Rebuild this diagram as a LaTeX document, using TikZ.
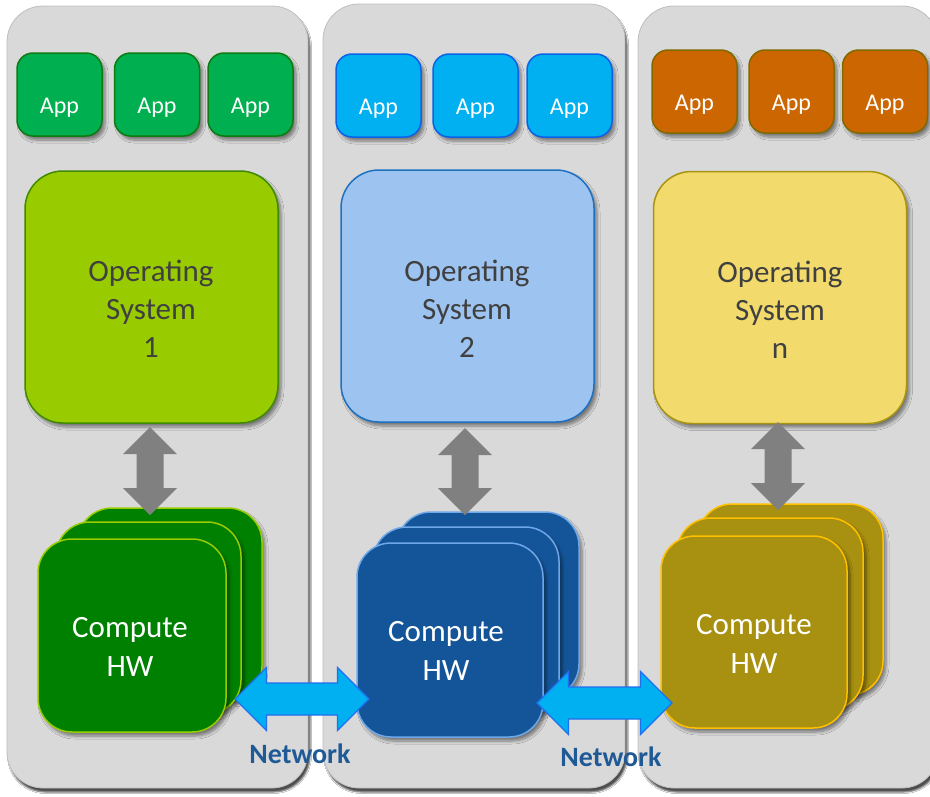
\documentclass[tikz,border=0pt]{standalone}
\usepackage{fontspec}
\setmainfont{Carlito}
\usetikzlibrary{shadows.blur}
\definecolor{panelgray}{HTML}{D9D9D9}
\definecolor{panelline}{HTML}{BFBFBF}
\definecolor{appAfill}{HTML}{00B050}
\definecolor{appAline}{HTML}{0E7A10}
\definecolor{appBfill}{HTML}{00B0F0}
\definecolor{appBline}{HTML}{0B62E8}
\definecolor{appCfill}{HTML}{CC6600}
\definecolor{appCline}{HTML}{7F6A00}
\definecolor{osAfill}{HTML}{99CC00}
\definecolor{osAline}{HTML}{3F8A00}
\definecolor{osBfill}{HTML}{9DC3F0}
\definecolor{osBline}{HTML}{1F70C0}
\definecolor{osCfill}{HTML}{F2DB6C}
\definecolor{osCline}{HTML}{A89410}
\definecolor{hwAfill}{HTML}{008000}
\definecolor{hwAline}{HTML}{99CC00}
\definecolor{hwBfill}{HTML}{145599}
\definecolor{hwBline}{HTML}{6FA8E8}
\definecolor{hwCfill}{HTML}{A89010}
\definecolor{hwCline}{HTML}{FFC000}
\definecolor{netfill}{HTML}{00B0F0}
\definecolor{netline}{HTML}{1F6FEF}
\definecolor{nettext}{HTML}{1F5A96}
\definecolor{ostext}{HTML}{404040}
\definecolor{graydark}{HTML}{808080}
\newcommand\vdarrow[3]{%
  \fill[graydark] (#1,#2) -- ({#1+27},{#2+27}) -- ({#1+13.5},{#2+27}) -- ({#1+13.5},{#3-27})
   -- ({#1+27},{#3-27}) -- (#1,#3) -- ({#1-27},{#3-27}) -- ({#1-13.5},{#3-27})
   -- ({#1-13.5},{#2+27}) -- ({#1-27},{#2+27}) -- cycle;}
\newcommand\hdarrow[3]{%
  \filldraw[fill=netfill, draw=netline, line width=1.2pt, line join=miter]
   (#1,#3) -- ({#1+31.5},{#3-31.5}) -- ({#1+31.5},{#3-16}) -- ({#2-31.5},{#3-16})
   -- ({#2-31.5},{#3-31.5}) -- (#2,#3) -- ({#2-31.5},{#3+31.5}) -- ({#2-31.5},{#3+16})
   -- ({#1+31.5},{#3+16}) -- ({#1+31.5},{#3+31.5}) -- cycle;}
\tikzset{
  boxshadow/.style={blur shadow={shadow xshift=3pt, shadow yshift=-4pt, shadow blur radius=3pt, shadow blur steps=6, shadow opacity=45}},
  panel/.style={rectangle, rounded corners=36pt, fill=panelgray, draw=panelline, line width=0.8pt,
    inner sep=0pt, outer sep=0pt,
    blur shadow={shadow xshift=2pt, shadow yshift=-4pt, shadow blur radius=1.5pt, shadow blur steps=4, shadow opacity=70}},
  appbox/.style={rectangle, rounded corners=16pt, line width=1.5pt, inner sep=0pt, outer sep=0pt,
    minimum width=85pt, minimum height=83pt, boxshadow},
  osbox/.style={rectangle, rounded corners=38pt, line width=1.5pt, inner sep=0pt, outer sep=0pt,
    minimum width=253pt, minimum height=252pt, boxshadow},
  hwbox/.style={rectangle, rounded corners=34pt, line width=1.5pt, inner sep=0pt, outer sep=0pt, boxshadow},
  apptext/.style={text=white, font=\fontsize{24}{29}\selectfont, inner sep=0pt, anchor=base},
  ostext/.style={text=ostext, font=\fontsize{31}{38}\selectfont, align=center, inner sep=0pt},
  hwtext/.style={text=white, font=\fontsize{31}{38.5}\selectfont, align=center, inner sep=0pt},
  nettextstyle/.style={text=nettext, font=\bfseries\fontsize{28}{34}\selectfont, inner sep=0pt, anchor=base},
}
\begin{document}
\begin{tikzpicture}[x=1pt, y=-1pt]
\useasboundingbox (0,0) rectangle (930,796);
\clip (0,0) rectangle (930,796);
\fill[white] (0,0) rectangle (930,796);
% panels
\node[panel, minimum width=301pt, minimum height=782pt] (p1) at (157.5,397) {};
\node[panel, minimum width=302pt, minimum height=784pt] (p2) at (474,396) {};
\node[panel, minimum width=300pt, minimum height=782pt] (p3) at (788,397) {};
% apps column 1
\node[appbox, fill=appAfill, draw=appAline] (a11) at (59.5,94.5) {};
\node[appbox, fill=appAfill, draw=appAline] (a12) at (157,94.5) {};
\node[appbox, fill=appAfill, draw=appAline] (a13) at (250.5,94.5) {};
\node[apptext] (ta11) at (59.5,113) {App};
\node[apptext] (ta12) at (157,113) {App};
\node[apptext] (ta13) at (250.5,113) {App};
% apps column 2
\node[appbox, fill=appBfill, draw=appBline] (a21) at (378.5,95.5) {};
\node[appbox, fill=appBfill, draw=appBline] (a22) at (475.5,95.5) {};
\node[appbox, fill=appBfill, draw=appBline] (a23) at (569.5,95.5) {};
\node[apptext] (ta21) at (378.5,114) {App};
\node[apptext] (ta22) at (475.5,114) {App};
\node[apptext] (ta23) at (569.5,114) {App};
% apps column 3
\node[appbox, fill=appCfill, draw=appCline] (a31) at (694.5,91.5) {};
\node[appbox, fill=appCfill, draw=appCline] (a32) at (791.5,91.5) {};
\node[appbox, fill=appCfill, draw=appCline] (a33) at (885,91.5) {};
\node[apptext] (ta31) at (694.5,110) {App};
\node[apptext] (ta32) at (791.5,110) {App};
\node[apptext] (ta33) at (885,110) {App};
% operating systems
\node[osbox, fill=osAfill, draw=osAline] (os1) at (151.5,297) {};
\node[osbox, fill=osBfill, draw=osBline] (os2) at (467.5,296) {};
\node[osbox, fill=osCfill, draw=osCline] (os3) at (780,297.5) {};
\node[ostext] (tos1) at (151,309) {Operating\\System\\1};
\node[ostext] (tos2) at (467,309) {Operating\\System\\2};
\node[ostext] (tos3) at (780,310) {Operating\\System\\n};
% compute HW column 1
\node[hwbox, fill=hwAfill, draw=hwAline, minimum width=184pt, minimum height=192pt] (h1c) at (170,604) {};
\node[hwbox, fill=hwAfill, draw=hwAline, minimum width=185pt, minimum height=192pt] (h1b) at (148.5,618) {};
\node[hwbox, fill=hwAfill, draw=hwAline, minimum width=188pt, minimum height=193pt] (h1a) at (132,635.5) {};
\node[hwtext] (th1) at (130,647) {Compute\\HW};
% compute HW column 2
\node[hwbox, fill=hwBfill, draw=hwBline, minimum width=182pt, minimum height=186pt] (h2c) at (488,605) {};
\node[hwbox, fill=hwBfill, draw=hwBline, minimum width=186pt, minimum height=189pt] (h2b) at (466,621.5) {};
\node[hwbox, fill=hwBfill, draw=hwBline, minimum width=186pt, minimum height=194pt] (h2a) at (450,640) {};
\node[hwtext] (th2) at (446,651) {Compute\\HW};
% compute HW column 3
\node[hwbox, fill=hwCfill, draw=hwCline, minimum width=185pt, minimum height=191pt] (h3c) at (790.5,599.5) {};
\node[hwbox, fill=hwCfill, draw=hwCline, minimum width=186pt, minimum height=192pt] (h3b) at (770,614) {};
\node[hwbox, fill=hwCfill, draw=hwCline, minimum width=186pt, minimum height=192pt] (h3a) at (754,632) {};
\node[hwtext] (th3) at (754,644) {Compute\\HW};
% OS <-> HW arrows
\vdarrow{150}{427}{515}
\vdarrow{465}{428}{515}
\vdarrow{778}{422}{510}
% network arrows
\hdarrow{235}{369}{699}
\hdarrow{537}{672}{703}
\node[nettextstyle] (n1) at (300,763) {Network};
\node[nettextstyle] (n2) at (611,766) {Network};
\end{tikzpicture}
\end{document}
